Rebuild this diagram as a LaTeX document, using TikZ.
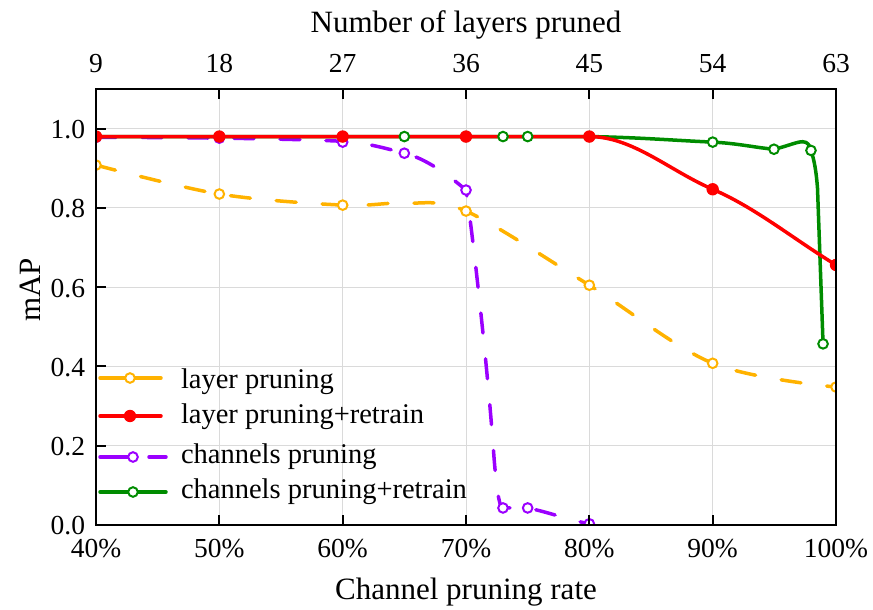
\documentclass[tikz,border=0pt]{standalone}
\usepackage{fontspec}
\setmainfont{Liberation Serif}
\definecolor{corange}{RGB}{255,178,0}
\definecolor{cred}{RGB}{255,0,0}
\definecolor{cpurple}{RGB}{155,0,255}
\definecolor{cgreen}{RGB}{0,140,0}
\definecolor{cgrid}{RGB}{218,218,218}
\begin{document}
\begin{tikzpicture}[x=1pt,y=1pt,
  every node/.style={inner sep=0pt,outer sep=0pt},
  ticklab/.style={font=\fontsize{27.5}{30}\selectfont},
  axtitle/.style={font=\fontsize{31}{34}\selectfont},
  legtext/.style={font=\fontsize{28.5}{31}\selectfont},
  gridline/.style={draw=cgrid,line width=1pt},
  frameline/.style={draw=black,line width=2pt},
  tickline/.style={draw=black,line width=2pt},
  dashedcurve/.style={line width=3.5pt,line cap=round,line join=round,dash pattern=on 20pt off 26pt},
  solidcurve/.style={line width=3.5pt,line cap=round,line join=round},
  omark/.style={draw=#1,fill=white,line width=2pt},
  fmark/.style={fill=#1,draw=none}]
\useasboundingbox (0,0) rectangle (873,610);
\begin{scope}[shift={(-397.33pt,85pt)},x=12.3333pt,y=396.36pt]
  % grid
  \foreach \p in {50,60,70,80,90} \draw[gridline] (\p,0) -- (\p,1.1);
  \foreach \v in {0.2,0.4,0.6,0.8,1.0} \draw[gridline] (40,\v) -- (100,\v);
  \begin{scope}
    \clip (40,0) rectangle (100,1.1);
    % layer pruning
    \draw[dashedcurve,draw=corange] plot[smooth,tension=0.55] coordinates
      {(40,0.908) (50,0.835) (60,0.807) (65,0.812) (70,0.792) (80,0.605) (90,0.408) (100,0.348)};
    % channels pruning
    \draw[dashedcurve,draw=cpurple] (40,0.978) .. controls (45,0.978) and (55,0.976) .. (60,0.968)
      .. controls (62,0.964) and (63.5,0.95) .. (65,0.938)
      .. controls (66.7,0.925) and (68.5,0.885) .. (70,0.845)
      .. controls (70.35,0.78) and (71.6,0.45) .. (72.2,0.2)
      .. controls (72.45,0.09) and (72.7,0.043) .. (73,0.043)
      -- (75,0.043) .. controls (77,0.03) and (78,0.015) .. (80,0.003);
    % channels pruning + retrain
    \draw[solidcurve,draw=cgreen] (40,0.98) -- (80,0.98)
      .. controls (84,0.978) and (87,0.97) .. (90,0.966)
      .. controls (92,0.963) and (93.5,0.952) .. (94.97,0.948)
      .. controls (96,0.955) and (96.8,0.967) .. (97.3,0.967)
      .. controls (97.7,0.967) and (97.9,0.957) .. (97.97,0.945)
      .. controls (98.25,0.92) and (98.4,0.89) .. (98.5,0.85)
      -- (98.95,0.457);
    % layer pruning + retrain
    \draw[solidcurve,draw=cred] (40,0.98) -- (80,0.98)
      .. controls (83.5,0.98) and (86.5,0.894) .. (90,0.847)
      .. controls (93.5,0.80) and (96.5,0.7225) .. (100,0.656);
    % markers
    \foreach \p/\v in {40/0.908,50/0.835,60/0.807,70/0.792,80/0.605,90/0.408,100/0.348}
      \draw[omark=corange] (\p,\v) circle[radius=4.8pt];
    \foreach \p/\v in {40/0.978,50/0.976,60/0.966,65/0.938,70/0.845,73/0.043,75/0.043,80/0.003}
      \draw[omark=cpurple] (\p,\v) circle[radius=4.8pt];
    \foreach \p/\v in {40/0.98,50/0.98,60/0.98,65/0.98,70/0.98,73/0.98,75/0.98,80/0.98,90/0.966,94.97/0.948,97.97/0.945,98.95/0.457}
      \draw[omark=cgreen] (\p,\v) circle[radius=4.8pt];
    \foreach \p/\v in {40/0.98,50/0.98,60/0.98,70/0.98,80/0.98,90/0.847,100/0.656}
      \fill[fmark=cred] (\p,\v) circle[radius=6.2pt];
  \end{scope}
  % frame and ticks
  \draw[frameline] (40,0) rectangle (100,1.1);
  \foreach \p in {50,60,70,80,90} {
    \draw[tickline] (\p,0) -- ++(0pt,10pt);
    \draw[tickline] (\p,1.1) -- ++(0pt,-10pt);
  }
  \foreach \v in {0.2,0.4,0.6,0.8,1.0} \draw[tickline] (40,\v) -- ++(10pt,0pt);
  % top labels
  \foreach \p/\l in {40/9,50/18,60/27,70/36,80/45,90/54,100/63}
    \path (\p,1.1) ++(0pt,16pt) node[ticklab,anchor=base] (top\l) {\l};
  \path (70,1.1) ++(0pt,56pt) node[axtitle,anchor=base] (toptitle) {Number of layers pruned};
  % bottom labels
  \foreach \p in {40,50,60,70,80,90,100}
    \path (\p,0) ++(0pt,-33pt) node[ticklab,anchor=base] (bot\p) {\p\%};
  \path (70,0) ++(0pt,-75pt) node[axtitle,anchor=base] (bottitle) {Channel pruning rate};
  % left labels
  \foreach \v/\l/\n in {0/0.0/a,0.2/0.2/b,0.4/0.4/c,0.6/0.6/d,0.8/0.8/e,1.0/1.0/f}
    \path (40,\v) ++(-11pt,-1pt) node[ticklab,anchor=east] (ylab\n) {\l};
\end{scope}
\node[axtitle,rotate=90] (ytitle) at (30,320) {mAP};
% legend
\draw[solidcurve,draw=corange] (100,232) -- (161,232);
\draw[omark=corange] (130,232) circle[radius=4.8pt];
\node[legtext,anchor=base west] (leg1) at (181,221) {layer pruning};
\draw[solidcurve,draw=cred] (100,194) -- (161,194);
\fill[fmark=cred] (130,194) circle[radius=6.2pt];
\node[legtext,anchor=base west] (leg2) at (181,186) {layer pruning+retrain};
\draw[solidcurve,draw=cpurple] (100,153) -- (128,153);
\draw[solidcurve,draw=cpurple] (149,153) -- (166,153);
\draw[omark=cpurple] (133,153) circle[radius=4.8pt];
\node[legtext,anchor=base west] (leg3) at (181,146) {channels pruning};
\draw[solidcurve,draw=cgreen] (100,118) -- (166,118);
\draw[omark=cgreen] (133,118) circle[radius=4.8pt];
\node[legtext,anchor=base west] (leg4) at (181,111) {channels pruning+retrain};
\end{tikzpicture}
\end{document}
